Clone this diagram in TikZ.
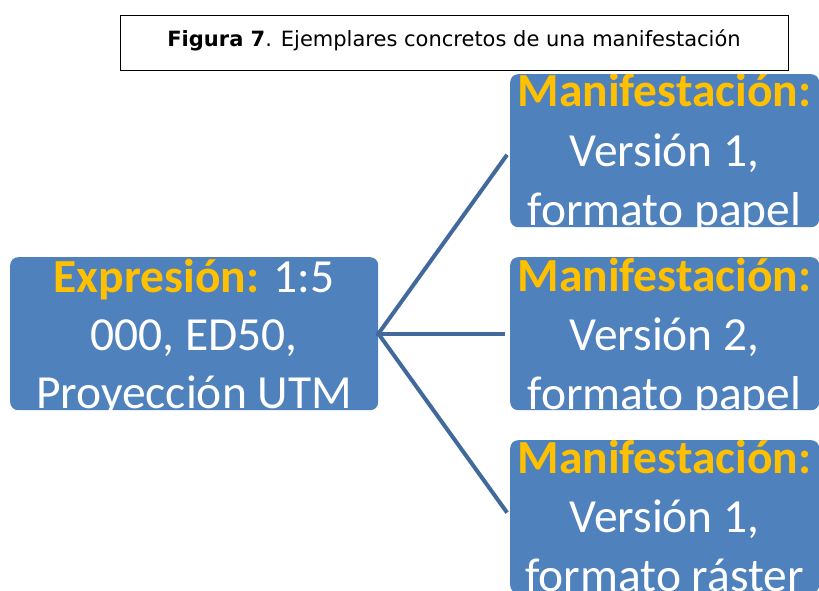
\documentclass[tikz,border=0pt]{standalone}
\usepackage{fontspec}
\setmainfont{Carlito}
\newfontfamily\verd{DejaVu Sans}
\definecolor{boxblue}{HTML}{4F81BD}
\definecolor{gold}{HTML}{FFC000}
\definecolor{linkblue}{HTML}{41699C}
\tikzset{
  bluebox/.style={fill=boxblue, draw=none, rounded corners=8pt, minimum width=#1, minimum height=153pt, inner sep=0pt, anchor=north west},
  boxtext/.style={text=white, anchor=base, inner sep=0pt, font=\fontsize{47.5}{57}\selectfont},
  link/.style={draw=linkblue, line width=4pt},
  hd/.style={text=gold, font=\bfseries}
}
\begin{document}
\begin{tikzpicture}[x=1pt,y=-1pt]
\useasboundingbox (0,0) rectangle (819,591);
\fill[white] (0,0) rectangle (819,591);
% title
\node[draw=black, line width=1pt, minimum width=668pt, minimum height=55pt, anchor=north west, inner sep=0pt] (title) at (120,15) {};
\node[anchor=base, inner sep=0pt, font=\verd\fontsize{21}{25}\selectfont] (titletext) at (454,47) {\textbf{Figura 7}. Ejemplares concretos de una manifestación};
% boxes
\node[bluebox=368pt] (expr) at (10,257) {};
\node[bluebox=309pt] (m1) at (510,74) {};
\node[bluebox=309pt] (m2) at (510,257) {};
\node[bluebox=309pt] (m3) at (510,440) {};
% links
\draw[link, shorten <=-2pt, shorten >=5pt] (expr.east) -- (m1.west);
\draw[link, shorten <=-2pt, shorten >=5pt] (expr.east) -- (m2.west);
\draw[link, shorten <=-2pt, shorten >=5pt] (expr.east) -- (m3.west);
% texts, clipped to boxes
\begin{scope}
\clip[rounded corners=8pt] (10,257) rectangle (378,410);
\node[boxtext] (e1) at (194,292) {{\color{gold}\bfseries Expresión:} 1:5};
\node[boxtext] (e2) at (194,350) {000, ED50,};
\node[boxtext] (e3) at (194,408) {Proyección UTM};
\end{scope}
\begin{scope}
\clip[rounded corners=8pt] (510,74) rectangle (819,227);
\node[boxtext] (a1) at (664.5,107) {{\color{gold}\bfseries Manifestación:}};
\node[boxtext] (a2) at (664.5,166) {Versión 1,};
\node[boxtext] (a3) at (664.5,225) {formato papel};
\end{scope}
\begin{scope}
\clip[rounded corners=8pt] (510,257) rectangle (819,410);
\node[boxtext] (b1) at (664.5,291) {{\color{gold}\bfseries Manifestación:}};
\node[boxtext] (b2) at (664.5,350) {Versión 2,};
\node[boxtext] (b3) at (664.5,409) {formato papel};
\end{scope}
\begin{scope}
\clip[rounded corners=8pt] (510,440) rectangle (819,593);
\node[boxtext] (c1) at (664.5,473) {{\color{gold}\bfseries Manifestación:}};
\node[boxtext] (c2) at (664.5,532) {Versión 1,};
\node[boxtext] (c3) at (664.5,591) {formato ráster};
\end{scope}
\end{tikzpicture}
\end{document}
